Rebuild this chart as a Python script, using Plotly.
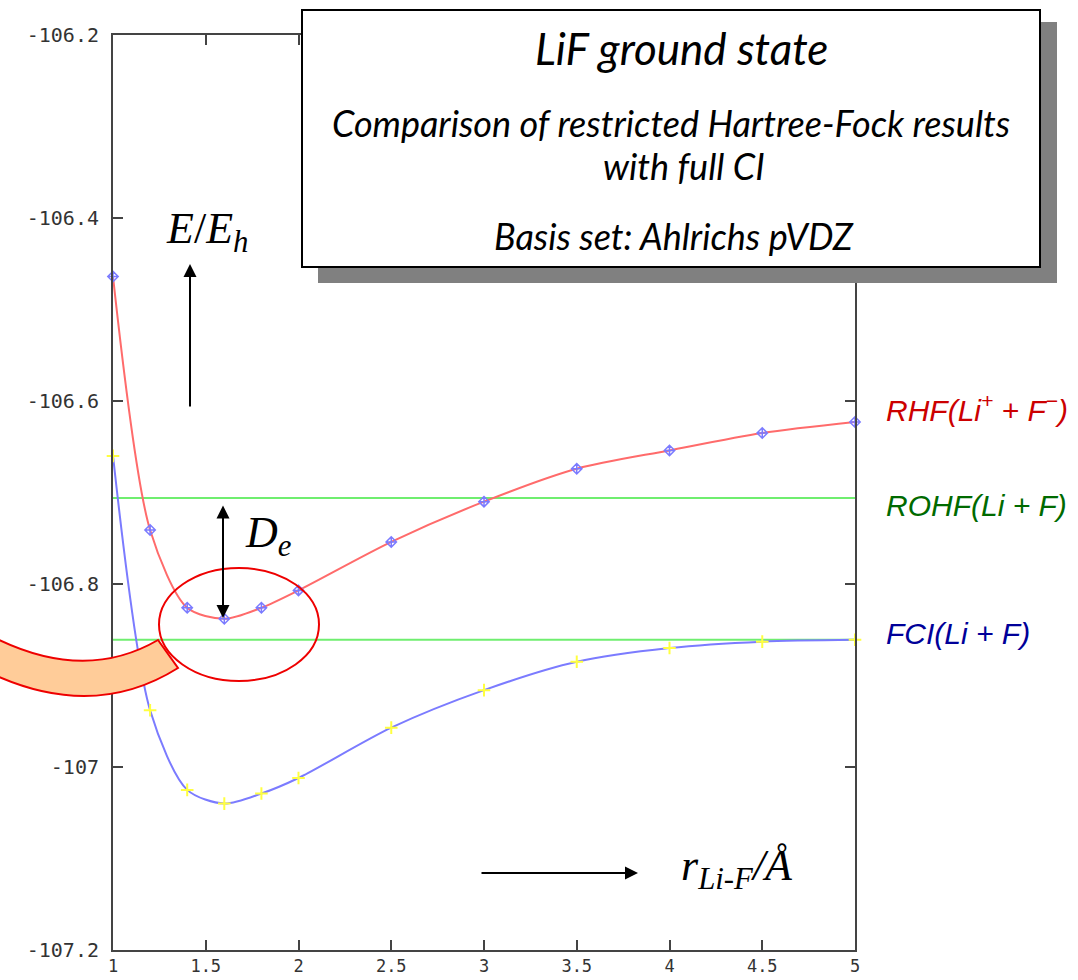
import plotly.graph_objects as go

# ---- data ----
r_vals = [1.0, 1.2, 1.4, 1.6, 1.8, 2.0, 2.5, 3.0, 3.5, 4.0, 4.5, 5.0]
e_rhf = [-106.464, -106.741, -106.826, -106.838, -106.826, -106.807,
         -106.754, -106.710, -106.674, -106.654, -106.635, -106.623]
e_fci = [-106.660, -106.938, -107.025, -107.040, -107.029, -107.012,
         -106.957, -106.916, -106.885, -106.870, -106.863, -106.861]
e_rohf_limit = -106.706
e_fci_limit = -106.861
x_range = [1, 5]
y_range = [-107.2, -106.2]
x_tickvals = [1, 1.5, 2, 2.5, 3, 3.5, 4, 4.5, 5]
x_ticktext = ["1", "1.5", "2", "2.5", "3", "3.5", "4", "4.5", "5"]
y_tickvals = [-107.2, -107.0, -106.8, -106.6, -106.4, -106.2]
y_ticktext = ["-107.2", "-107", "-106.8", "-106.6", "-106.4", "-106.2"]

W, H = 1078, 980
L, R, T, B = 113, 855, 35, 950


def PX(px):
    return (px - L) / (R - L)


def PY(py):
    return (B - py) / (B - T)


fig = go.Figure()

fig.add_trace(go.Scatter(x=x_range, y=[e_rohf_limit] * 2, mode="lines",
                         line=dict(color="#6fee6f", width=2), cliponaxis=False,
                         showlegend=False))
fig.add_trace(go.Scatter(x=x_range, y=[e_fci_limit] * 2, mode="lines",
                         line=dict(color="#6fee6f", width=2), cliponaxis=False,
                         showlegend=False))
fig.add_trace(go.Scatter(x=r_vals, y=e_rhf, mode="lines+markers",
                         line=dict(color="#ff6b6b", width=2, shape="spline", smoothing=0.8),
                         marker=dict(symbol="diamond-cross-open", size=8, color="#7b7bff",
                                     line=dict(width=1.5, color="#7b7bff")),
                         cliponaxis=False, showlegend=False))
fig.add_trace(go.Scatter(x=r_vals, y=e_fci, mode="lines+markers",
                         line=dict(color="#7b7bff", width=2, shape="spline", smoothing=0.8),
                         marker=dict(symbol="cross-thin", size=9, color="#ffff40",
                                     line=dict(width=2, color="#ffff40")),
                         cliponaxis=False, showlegend=False))

axis_common = dict(showline=True, linecolor="#444", linewidth=2, mirror="ticks",
                   ticks="inside", ticklen=10, tickwidth=2, tickcolor="#444",
                   showgrid=False, zeroline=False)

fig.update_xaxes(range=x_range, tickvals=x_tickvals, ticktext=x_ticktext,
                 ticklabelstandoff=0,
                 tickfont=dict(family="DejaVu Sans Mono", size=17, color="#333"),
                 **axis_common)
fig.update_yaxes(range=y_range, tickvals=y_tickvals, ticktext=y_ticktext,
                 ticklabelstandoff=8,
                 tickfont=dict(family="DejaVu Sans Mono", size=20, color="#333"),
                 **axis_common)

shapes = []
# shadow + title box
shapes.append(dict(type="rect", xref="paper", yref="paper",
                   x0=PX(318), x1=PX(1057), y0=PY(283), y1=PY(22),
                   fillcolor="#808080", line=dict(width=0)))
shapes.append(dict(type="rect", xref="paper", yref="paper",
                   x0=PX(302), x1=PX(1040), y0=PY(267), y1=PY(10),
                   fillcolor="white", line=dict(color="black", width=2)))
# curved band
band = (f"M {PX(-20)},{PY(630)} Q {PX(79)},{PY(686)} {PX(158)},{PY(640)} "
        f"L {PX(178)},{PY(668)} Q {PX(89)},{PY(724)} {PX(-20)},{PY(668)} Z")
shapes.append(dict(type="path", xref="paper", yref="paper", path=band,
                   fillcolor="#ffcc99", line=dict(color="#ee0000", width=2)))
# ellipse
shapes.append(dict(type="circle", xref="paper", yref="paper",
                   x0=PX(159), x1=PX(319), y0=PY(681), y1=PY(568),
                   line=dict(color="#ee0000", width=2)))

fig.update_layout(shapes=shapes)

ann = []
box_font = "Lato"
cx = 673
ann.append(dict(text="<i>LiF ground state</i>", x=PX(cx + 8), y=PY(48),
                font=dict(family=box_font, size=44, color="black")))
ann.append(dict(text="<i>Comparison of restricted Hartree-Fock results</i>", x=PX(cx - 2), y=PY(123),
                font=dict(family=box_font, size=36, color="black")))
ann.append(dict(text="<i>with full CI</i>", x=PX(cx + 11), y=PY(166),
                font=dict(family=box_font, size=36, color="black")))
ann.append(dict(text="<i>Basis set: Ahlrichs pVDZ</i>", x=PX(cx + 1), y=PY(236),
                font=dict(family=box_font, size=36, color="black")))

serif = "Liberation Serif"
ann.append(dict(text="<i>E</i>/<i>E<sub>h</sub></i>", x=PX(207), y=PY(232),
                font=dict(family=serif, size=44, color="black")))
ann.append(dict(text="<i>D<sub>e</sub></i>", x=PX(268), y=PY(535),
                font=dict(family=serif, size=44, color="black")))
ann.append(dict(text="<i>r<sub>Li-F</sub>/Å</i>", x=PX(737), y=PY(868),
                font=dict(family=serif, size=44, color="black")))

lab_font = "Liberation Sans"
ann.append(dict(text="<i>RHF(Li<sup>+</sup> + F<sup>−</sup>)</i>", x=PX(884), y=PY(408),
                xanchor="left", font=dict(family=lab_font, size=30, color="#cc0000")))
ann.append(dict(text="<i>ROHF(Li + F)</i>", x=PX(884), y=PY(505),
                xanchor="left", font=dict(family=lab_font, size=30, color="#006a00")))
ann.append(dict(text="<i>FCI(Li + F)</i>", x=PX(884), y=PY(633),
                xanchor="left", font=dict(family=lab_font, size=30, color="#000099")))

for a in ann:
    a.setdefault("xref", "paper")
    a.setdefault("yref", "paper")
    a.setdefault("xanchor", "center")
    a.setdefault("yanchor", "middle")
    a.setdefault("showarrow", False)

arrow = dict(xref="paper", yref="paper", text="", showarrow=True, arrowhead=2,
             arrowsize=1.3, arrowwidth=2, arrowcolor="black")
# up arrow
ann.append(dict(arrow, x=PX(190), y=PY(264), ax=0, ay=408 - 264))
# right arrow
ann.append(dict(arrow, x=PX(638), y=PY(873), ax=480 - 638, ay=0))
# double arrow De
ann.append(dict(arrow, x=PX(223), y=PY(618), ax=0, ay=504 - 618, arrowside="end+start",
                startarrowhead=2, startarrowsize=1.3))

fig.update_layout(annotations=ann, width=W, height=H,
                  margin=dict(l=L, r=W - R, t=T, b=H - B, autoexpand=False),
                  paper_bgcolor="white", plot_bgcolor="white")

fig.write_html("out.html")
